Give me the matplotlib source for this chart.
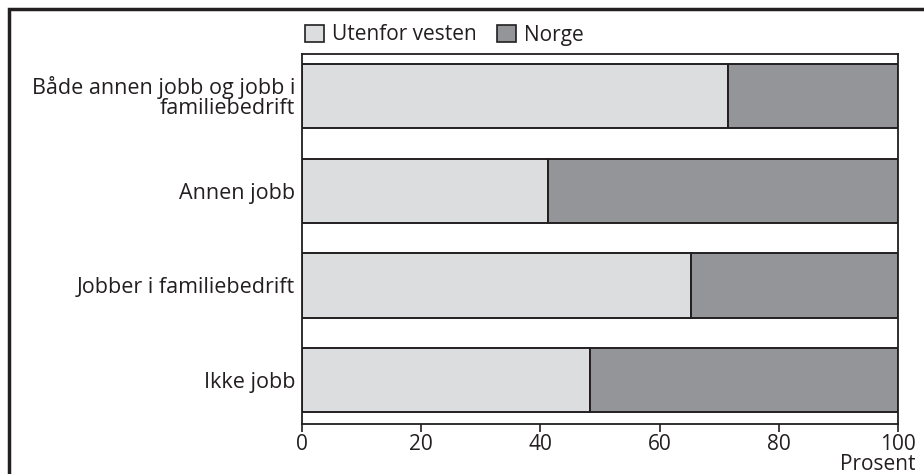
import matplotlib
matplotlib.use("Agg")
import matplotlib.pyplot as plt
from matplotlib.patches import Rectangle, Patch

categories = ["Både annen jobb og jobb i\nfamiliebedrift", "Annen jobb",
              "Jobber i familiebedrift", "Ikke jobb"]
utenfor = [71.5, 41.3, 65.2, 48.3]
norge = [100 - v for v in utenfor]
series_names = ["Utenfor vesten", "Norge"]
xticks = [0, 20, 40, 60, 80, 100]

plt.rcParams['font.family'] = ['Open Sans', 'DejaVu Sans']
W, H = 924, 474
fig = plt.figure(figsize=(W/100, H/100), dpi=100)
ax = fig.add_axes([302/W, 1-424/H, 596/W, 370/H])

light = "#dcdddf"
dark = "#939598"
edge = "#231f20"

ypos = list(range(len(categories)))[::-1]
ax.barh(ypos, utenfor, height=0.675, color=light, edgecolor=edge, linewidth=1.4)
ax.barh(ypos, norge, left=utenfor, height=0.675, color=dark, edgecolor=edge, linewidth=1.4)

ax.set_xlim(0, 100)
ax.set_ylim(-0.46, 3.44)
ax.set_yticks(ypos)
ax.set_yticklabels(categories, fontsize=15.5, color=edge, linespacing=0.9)
ax.tick_params(axis='y', length=0, pad=5)
ax.set_xticks(xticks)
ax.set_xticklabels([str(t) for t in xticks], fontsize=15, color=edge)
ax.tick_params(axis='x', length=6, width=1.2, color=edge, pad=1)
for s in ax.spines.values():
    s.set_color(edge)
    s.set_linewidth(1.3)

fig.text(916/W, 1-454/H, "Prosent", ha='right', va='top', fontsize=15, color=edge)

handles = [Patch(facecolor=light, edgecolor=edge, linewidth=1.2),
           Patch(facecolor=dark, edgecolor=edge, linewidth=1.2)]
fig.legend(handles, series_names, loc='center left', bbox_to_anchor=(305/W, 1-35/H),
           ncol=2, frameon=False, fontsize=15, handlelength=0.92, handleheight=0.92,
           handletextpad=0.38, columnspacing=0.95, borderpad=0, borderaxespad=0,
           labelcolor=edge)

fig.patches.append(Rectangle((9/W, -0.1), 1.2, 1 - 9/H + 0.1, transform=fig.transFigure,
                             fill=False, edgecolor=edge, linewidth=2.5))

fig.savefig("out.png", dpi=100)
